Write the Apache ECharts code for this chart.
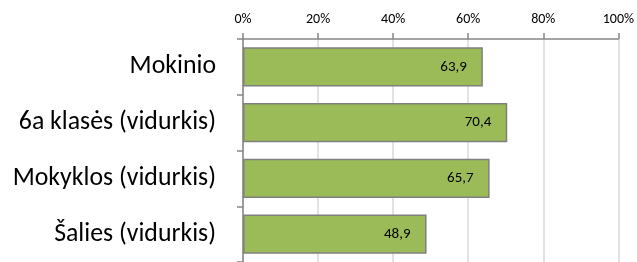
<!DOCTYPE html>
<html>
<head>
<meta charset="utf-8">
<script src="https://cdn.jsdelivr.net/npm/echarts@6/dist/echarts.min.js"></script>
<style>html,body{margin:0;padding:0;background:#fff;}#c{width:637px;height:262px;}</style>
</head>
<body>
<div id="c"></div>
<script>
const categories = ["Mokinio", "6a klasės (vidurkis)", "Mokyklos (vidurkis)", "Šalies (vidurkis)"];
const values = [63.9, 70.4, 65.7, 48.9];
const tickLabels = ["0%", "20%", "40%", "60%", "80%", "100%"];

const chart = echarts.init(document.getElementById('c'), null, {renderer: 'canvas'});
const font = "Carlito, 'Open Sans', 'Liberation Sans', sans-serif";
chart.setOption({
  animation: false,
  grid: {left: 243, top: 39, width: 376, height: 227},
  xAxis: {
    type: 'value', position: 'top', min: 0, max: 100, interval: 20,
    axisLine: {show: true, lineStyle: {color: '#868686', width: 1.5}},
    axisTick: {show: true, length: 6, lineStyle: {color: '#868686', width: 1.5}},
    splitLine: {show: true, lineStyle: {color: '#d9d9d9', width: 1.5}},
    axisLabel: {
      formatter: function (v) { return tickLabels[Math.round(v / 20)]; },
      color: '#000', fontSize: 14, fontFamily: font, margin: 13
    }
  },
  yAxis: {
    type: 'category', data: categories, inverse: true,
    axisLine: {show: true, lineStyle: {color: '#868686', width: 1.5}},
    axisTick: {show: true, length: 6, lineStyle: {color: '#868686', width: 1.5}},
    axisLabel: {color: '#000', fontSize: 25.8, fontFamily: font, margin: 27}
  },
  series: [{
    type: 'bar', data: values, barCategoryGap: '30%',
    itemStyle: {color: '#9bbb59', borderColor: '#7f7f7f', borderWidth: 1.5},
    label: {
      show: true, position: 'insideRight', distance: 16,
      formatter: function (p) { return p.value.toFixed(1).replace('.', ','); },
      color: '#000', fontSize: 15, fontFamily: font
    }
  }]
});
</script>
</body>
</html>
